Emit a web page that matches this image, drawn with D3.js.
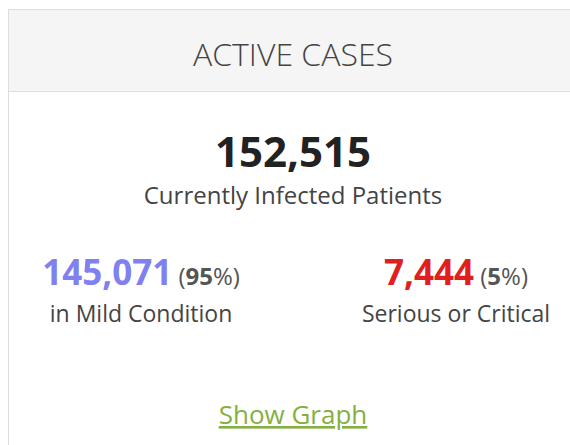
<!DOCTYPE html>
<html>
<head>
<meta charset="utf-8">
<script src="https://cdn.jsdelivr.net/npm/d3@7"></script>
<style>
  body { margin: 0; background: #fff; }
  text { font-family: "Open Sans", sans-serif; }
</style>
</head>
<body>
<div id="panel"></div>
<script>
var title = "ACTIVE CASES";
var total = 152515;
var totalLabel = "Currently Infected Patients";
var groups = ["in Mild Condition", "Serious or Critical"];
var counts = [145071, 7444];
var shares = [95, 5];
var colors = ["#8080f0", "#e02020"];
var linkText = "Show Graph";

var width = 570, height = 445;
var fmt = d3.format(",");

var svg = d3.select("#panel")
  .append("svg")
  .attr("width", width)
  .attr("height", height);

// panel box, runs off the right edge
svg.append("rect")
  .attr("x", 8.5).attr("y", 9.5)
  .attr("width", 620).attr("height", 500)
  .attr("fill", "#fff")
  .attr("stroke", "#dedede");

svg.append("rect")
  .attr("x", 9).attr("y", 10)
  .attr("width", 620).attr("height", 81)
  .attr("fill", "#f5f5f5");

svg.append("line")
  .attr("x1", 9).attr("x2", 570)
  .attr("y1", 91.5).attr("y2", 91.5)
  .attr("stroke", "#dedede");

var cx = 293;

svg.append("text")
  .attr("x", cx).attr("y", 66)
  .attr("text-anchor", "middle")
  .attr("font-size", 32)
  .attr("font-weight", 300)
  .attr("fill", "#444")
  .text(title);

svg.append("text")
  .attr("x", cx).attr("y", 167)
  .attr("text-anchor", "middle")
  .attr("font-size", 42)
  .attr("font-weight", 700)
  .attr("fill", "#222")
  .text(fmt(total));

svg.append("text")
  .attr("x", cx).attr("y", 204)
  .attr("text-anchor", "middle")
  .attr("font-size", 24)
  .attr("fill", "#444")
  .text(totalLabel);

// two columns
var x = d3.scalePoint().domain(groups).range([141, 456]);

var col = svg.selectAll("g.col")
  .data(groups)
  .enter()
  .append("g")
  .attr("class", "col")
  .attr("transform", function (d) { return "translate(" + x(d) + ",0)"; });

var num = col.append("text")
  .attr("y", 285)
  .attr("text-anchor", "middle")
  .attr("fill", "#555");

num.append("tspan")
  .attr("font-size", 35)
  .attr("font-weight", 700)
  .attr("fill", function (d, i) { return colors[i]; })
  .text(function (d, i) { return fmt(counts[i]); });

num.append("tspan")
  .attr("font-size", 24)
  .text(" (");
num.append("tspan")
  .attr("font-size", 24)
  .attr("font-weight", 700)
  .text(function (d, i) { return shares[i]; });
num.append("tspan")
  .attr("font-size", 24)
  .text("%)");

col.append("text")
  .attr("y", 322)
  .attr("text-anchor", "middle")
  .attr("font-size", 23)
  .attr("fill", "#444")
  .text(function (d) { return d; });

svg.append("text")
  .attr("x", cx).attr("y", 424)
  .attr("text-anchor", "middle")
  .attr("font-size", 26)
  .attr("fill", "#84b040")
  .attr("text-decoration", "underline")
  .text(linkText);
</script>
</body>
</html>
